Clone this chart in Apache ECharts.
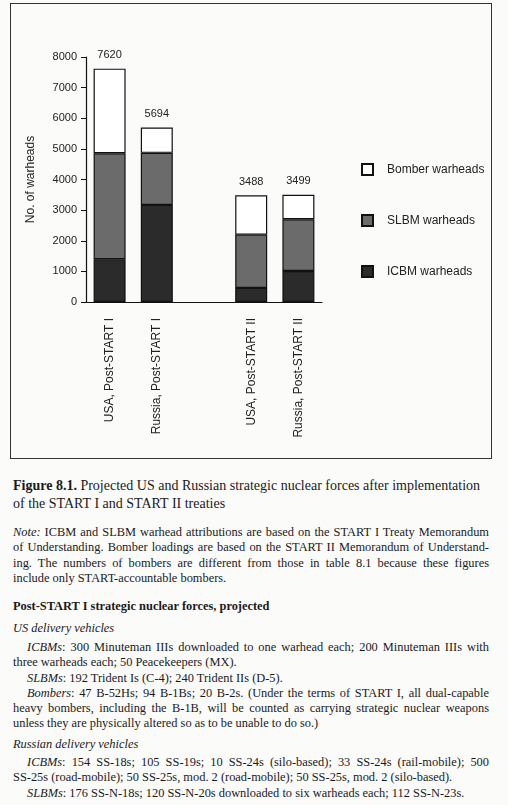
<!DOCTYPE html>
<html><head><meta charset="utf-8">
<script src="https://cdn.jsdelivr.net/npm/echarts@6/dist/echarts.min.js"></script>
<style>
html,body{margin:0;padding:0;background:#fbfbfa;}
body{width:508px;height:805px;position:relative;overflow:hidden;font-family:"Liberation Serif","Times New Roman",serif;color:#1a1a1a;}
#frame{position:absolute;left:10px;top:3px;width:480px;height:454px;border:1.5px solid #333;}
#chart{position:absolute;left:0;top:0;width:508px;height:465px;}
.blk{position:absolute;left:13px;width:476px;font-size:12.4px;line-height:15.3px;}
.blk div{white-space:nowrap;}
.j{text-align:justify;text-align-last:justify;}
.cap{font-size:14px;line-height:18px;}
.ind{padding-left:14px;}
</style></head>
<body>
<div id="frame"></div>
<div id="chart"></div>
<div class="blk cap" style="top:477px;"><div><b>Figure 8.1.</b> Projected US and Russian strategic nuclear forces after implementation</div><div>of the START I and START II treaties</div></div>
<div class="blk" style="top:525px;">
<div class="j"><i>Note:</i> ICBM and SLBM warhead attributions are based on the START I Treaty Memorandum</div>
<div class="j">of Understanding. Bomber loadings are based on the START II Memorandum of Understand-</div>
<div class="j">ing. The numbers of bombers are different from those in table 8.1 because these figures</div>
<div>include only START-accountable bombers.</div>
</div>
<div class="blk" style="top:599px;"><div><b>Post-START I strategic nuclear forces, projected</b></div></div>
<div class="blk" style="top:621px;"><div><i>US delivery vehicles</i></div></div>
<div class="blk" style="top:640px;">
<div class="j ind"><i>ICBMs</i>: 300 Minuteman IIIs downloaded to one warhead each; 200 Minuteman IIIs with</div>
<div>three warheads each; 50 Peacekeepers (MX).</div>
<div class="ind"><i>SLBMs</i>: 192 Trident Is (C-4); 240 Trident IIs (D-5).</div>
<div class="j ind"><i>Bombers</i>: 47 B-52Hs; 94 B-1Bs; 20 B-2s. (Under the terms of START I, all dual-capable</div>
<div class="j">heavy bombers, including the B-1B, will be counted as carrying strategic nuclear weapons</div>
<div>unless they are physically altered so as to be unable to do so.)</div>
</div>
<div class="blk" style="top:737px;"><div><i>Russian delivery vehicles</i></div></div>
<div class="blk" style="top:755px;">
<div class="j ind"><i>ICBMs</i>: 154 SS-18s; 105 SS-19s; 10 SS-24s (silo-based); 33 SS-24s (rail-mobile); 500</div>
<div>SS-25s (road-mobile); 50 SS-25s, mod. 2 (road-mobile); 50 SS-25s, mod. 2 (silo-based).</div>
<div class="ind"><i>SLBMs</i>: 176 SS-N-18s; 120 SS-N-20s downloaded to six warheads each; 112 SS-N-23s.</div>
</div>
<script>
var categories = ['USA, Post-START I', 'Russia, Post-START I', '', 'USA, Post-START II', 'Russia, Post-START II'];
var icbm = [1400, 3170, null, 460, 1010];
var slbm = [3456, 1700, null, 1740, 1690];
var bomber = [2764, 824, null, 1288, 799];
var totals = ['7620', '5694', '', '3488', '3499'];
var yTicks = [0, 1000, 2000, 3000, 4000, 5000, 6000, 7000, 8000];
var legendNames = ['Bomber warheads', 'SLBM warheads', 'ICBM warheads'];

var font = '"Liberation Sans", Arial, sans-serif';
var chart = echarts.init(document.getElementById('chart'));
var border = {borderColor: '#111', borderWidth: 1.2};
chart.setOption({
  animation: false,
  textStyle: {fontFamily: font, color: '#222'},
  grid: {left: 86, top: 57, width: 236, height: 245},
  legend: {
    orient: 'vertical', left: 356, top: 158, itemWidth: 11, itemHeight: 11, itemGap: 38,
    icon: 'rect',
    data: legendNames,
    textStyle: {fontFamily: font, fontSize: 12, color: '#222', padding: [0, 0, 0, 9]}
  },
  xAxis: {
    type: 'category', data: categories,
    axisLine: {lineStyle: {color: '#111', width: 1.2}},
    axisTick: {show: false},
    axisLabel: {rotate: 90, interval: 0, fontSize: 12, color: '#222', margin: 16, fontFamily: font}
  },
  yAxis: {
    type: 'value', min: yTicks[0], max: yTicks[yTicks.length - 1], interval: 1000,
    name: 'No. of warheads', nameLocation: 'middle', nameRotate: 90, nameGap: 49,
    nameTextStyle: {fontSize: 12, color: '#222', fontFamily: font},
    axisLine: {show: true, lineStyle: {color: '#111', width: 1.2}},
    axisTick: {show: true, length: 5, lineStyle: {color: '#111'}},
    splitLine: {show: false},
    axisLabel: {fontSize: 11, color: '#222', margin: 9, fontFamily: font,
      formatter: function (v) { return String(v); }}
  },
  series: [
    {name: 'ICBM warheads', type: 'bar', stack: 'w', barWidth: 32, data: icbm,
     itemStyle: Object.assign({color: '#2b2b2b'}, border)},
    {name: 'SLBM warheads', type: 'bar', stack: 'w', barWidth: 32, data: slbm,
     itemStyle: Object.assign({color: '#6b6b6b'}, border)},
    {name: 'Bomber warheads', type: 'bar', stack: 'w', barWidth: 32, data: bomber,
     itemStyle: Object.assign({color: '#ffffff'}, border),
     label: {show: true, position: 'top', distance: 8, fontSize: 11, color: '#222', fontFamily: font,
       formatter: function (p) { return totals[p.dataIndex]; }}}
  ]
});
</script>
</body></html>
